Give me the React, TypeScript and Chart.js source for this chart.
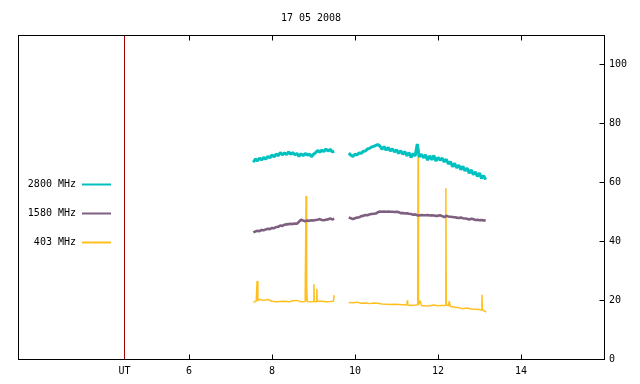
import React, { useEffect, useRef } from 'react';
import { Chart, registerables } from 'chart.js';

Chart.register(...registerables);

// ---------- data ----------
const TITLE = '17 05 2008';
const SERIES_LABELS = ['2800 MHz', '1580 MHz', '403 MHz'];
const SERIES_COLORS = ['#00c0c0', '#7f5f7f', '#ffbf1f'];
const UT_COLOR = '#a00000';

const X_MIN = 1.88;
const X_MAX = 16;
const UT_TIME = 4.446;
const X_TICKS = [UT_TIME, 6, 8, 10, 12, 14];
const Y_MIN = 0;
const Y_MAX = 110;
const Y_TICKS = [0, 20, 40, 60, 80, 100];
const GAP_TIME = 9.67;

const TIMES_A = [7.55, 7.6, 7.65, 7.7, 7.75, 7.8, 7.85, 7.9, 7.95, 8.0, 8.05, 8.1, 8.15, 8.2, 8.25, 8.3, 8.35, 8.4, 8.45, 8.5,
  8.55, 8.6, 8.65, 8.7, 8.75, 8.8, 8.85, 8.9, 8.95, 9.0, 9.05, 9.1, 9.15, 9.2, 9.25, 9.3, 9.35, 9.4, 9.45, 9.5];
const TIMES_B = [9.85, 9.9, 9.95, 10.0, 10.05, 10.1, 10.15, 10.2, 10.25, 10.3, 10.35, 10.4, 10.45, 10.5, 10.55, 10.6, 10.65,
  10.7, 10.75, 10.8, 10.85, 10.9, 10.95, 11.0, 11.05, 11.1, 11.15, 11.2, 11.25, 11.3, 11.35, 11.4, 11.45, 11.5, 11.55,
  11.6, 11.65, 11.7, 11.75, 11.8, 11.85, 11.9, 11.95, 12.0, 12.05, 12.1, 12.15, 12.2, 12.25, 12.3, 12.35, 12.4, 12.45,
  12.5, 12.55, 12.6, 12.65, 12.7, 12.75, 12.8, 12.85, 12.9, 12.95, 13.0, 13.05, 13.1, 13.15];

const MHZ2800_A = [66.8, 67.9, 67.3, 68.2, 67.6, 68.4, 67.9, 68.8, 68.3, 69.3, 68.6, 69.6, 69.0, 70.1, 69.3, 70.0, 69.4, 70.3, 69.5, 70.1,
  69.3, 69.8, 68.8, 69.7, 69.0, 69.8, 69.2, 69.6, 68.7, 69.5, 70.0, 70.8, 70.2, 70.9, 70.4, 71.3, 70.6, 71.2, 70.3, 70.6];
const MHZ2800_B = [69.9, 69.2, 68.8, 69.5, 69.3, 70.0, 69.8, 70.5, 70.6, 71.3, 71.5, 72.0, 72.2, 72.5, 72.8, 72.3, 71.2,
  72.1, 70.9, 71.8, 70.6, 71.4, 70.3, 71.0, 69.8, 70.7, 69.5, 70.4, 69.0, 70.1, 68.4, 69.8, 68.9, 73.0, 68.6,
  69.5, 68.3, 69.3, 67.5, 69.0, 67.6, 69.1, 67.2, 68.4, 67.5, 68.2, 66.9, 67.8, 66.2, 67.0, 65.3, 66.4, 64.9,
  65.8, 64.3, 65.4, 63.9, 64.8, 63.1, 64.2, 62.6, 63.5, 62.0, 63.1, 61.3, 62.2, 60.9];

const MHZ1580_A = [43.0, 43.3, 43.5, 43.4, 43.8, 43.7, 44.0, 44.2, 44.1, 44.5, 44.4, 44.8, 44.9, 45.3, 45.2, 45.6, 45.7, 45.8, 45.9, 45.8,
  46.0, 45.9, 46.6, 47.3, 47.0, 46.8, 47.0, 46.9, 47.1, 47.0, 47.2, 47.3, 47.5, 47.2, 47.1, 47.3, 47.4, 47.7, 47.4, 47.6];
const MHZ1580_B = [48.1, 47.8, 47.5, 47.8, 48.0, 48.1, 48.5, 48.6, 48.9, 48.8, 49.1, 49.2, 49.3, 49.4, 49.8, 50.1, 50.0,
  50.1, 50.0, 50.1, 50.0, 50.0, 49.9, 50.0, 49.9, 49.5, 49.6, 49.4, 49.5, 49.3, 49.2, 49.0, 49.1, 48.8, 48.7,
  48.9, 48.8, 48.8, 48.9, 48.7, 48.8, 48.7, 48.6, 48.6, 48.8, 48.5, 48.2, 48.6, 48.4, 48.3, 48.2, 48.1, 48.0,
  47.9, 48.0, 47.8, 47.7, 47.6, 47.4, 47.6, 47.5, 47.2, 47.3, 47.1, 47.2, 47.0, 47.1];

const MHZ403_TIMES_A = [7.55, 7.62, 7.64, 7.66, 7.7, 7.8, 7.9, 8.0, 8.1, 8.2, 8.3, 8.4, 8.5, 8.6, 8.7, 8.8, 8.82, 8.83, 8.84,
  8.85, 8.9, 9.0, 9.01, 9.02, 9.07, 9.08, 9.09, 9.2, 9.3, 9.4, 9.48, 9.5];
const MHZ403_A = [19.3, 19.6, 26.5, 19.8, 20.3, 19.9, 20.2, 19.6, 19.4, 19.5, 19.6, 19.4, 19.8, 19.9, 19.4, 19.5, 55.3, 19.7, 25.1,
  19.5, 19.4, 19.5, 25.4, 19.5, 19.4, 23.8, 19.6, 19.6, 19.4, 19.5, 19.6, 21.7];
const MHZ403_TIMES_B = [9.85, 9.95, 10.05, 10.15, 10.25, 10.35, 10.45, 10.55, 10.65, 10.75, 10.85, 10.95, 11.05, 11.15, 11.25,
  11.26, 11.27, 11.35, 11.45, 11.51, 11.52, 11.53, 11.57, 11.6, 11.7, 11.8, 11.9, 12.0, 12.1, 12.18, 12.19, 12.2,
  12.25, 12.27, 12.3, 12.4, 12.5, 12.6, 12.7, 12.8, 12.9, 13.0, 13.05, 13.06, 13.07, 13.12, 13.16];
const MHZ403_B = [19.2, 19.1, 19.3, 18.9, 19.0, 18.8, 19.0, 18.9, 18.7, 18.6, 18.5, 18.6, 18.5, 18.4, 18.3,
  19.9, 18.3, 18.2, 18.3, 18.4, 72.0, 18.3, 19.8, 18.2, 18.0, 18.1, 18.3, 18.1, 18.2, 18.2, 58.0, 18.6,
  18.0, 19.6, 17.8, 17.6, 17.4, 17.1, 17.3, 17.0, 16.9, 16.8, 16.6, 21.8, 16.7, 16.3, 15.9];

// ---------- helpers ----------
type Pt = { x: number; y: number | null };
const seg = (times: number[], vals: number[]): Pt[] => times.map((t, i) => ({ x: t, y: vals[i] }));
const joined = (tA: number[], vA: number[], tB: number[], vB: number[]): Pt[] => [
  ...seg(tA, vA),
  { x: GAP_TIME, y: null },
  ...seg(tB, vB),
];

const FONT = { family: "'DejaVu Sans Mono', monospace", size: 10, weight: 'normal' as const };

const framePlugin = {
  id: 'gnuFrame',
  afterDatasetsDraw(chart: any) {
    const { ctx, chartArea: a, scales } = chart;
    ctx.save();
    ctx.strokeStyle = '#000';
    ctx.lineWidth = 1;
    ctx.strokeRect(a.left + 0.5, a.top + 0.5, a.right - a.left, a.bottom - a.top);
    ctx.beginPath();
    scales.x.ticks.forEach((t: any) => {
      if (t.value === UT_TIME) return;
      const px = Math.round(scales.x.getPixelForValue(t.value)) + 0.5;
      ctx.moveTo(px, a.bottom + 0.5);
      ctx.lineTo(px, a.bottom - 4.5);
      ctx.moveTo(px, a.top + 0.5);
      ctx.lineTo(px, a.top + 5.5);
    });
    scales.y.ticks.forEach((t: any) => {
      if (t.value === Y_MIN) return;
      const py = Math.round(scales.y.getPixelForValue(t.value)) + 0.5;
      ctx.moveTo(a.right + 0.5, py);
      ctx.lineTo(a.right - 4.5, py);
    });
    ctx.stroke();

    // key (legend) inside the plot, gnuplot style: label then sample line
    ctx.font = `10px 'DejaVu Sans Mono', monospace`;
    ctx.textAlign = 'right';
    ctx.textBaseline = 'middle';
    let row = 0;
    chart.data.datasets.forEach((ds: any) => {
      if (!ds.keyed) return;
      const y = a.top + 149.5 + row * 29;
      ctx.fillStyle = '#000';
      ctx.fillText(ds.label, a.left + 58, y);
      ctx.strokeStyle = ds.borderColor;
      ctx.lineWidth = 2;
      ctx.beginPath();
      ctx.moveTo(a.left + 64, y);
      ctx.lineTo(a.left + 93, y);
      ctx.stroke();
      row++;
    });
    ctx.restore();
  },
};

export default function App() {
  const ref = useRef<HTMLCanvasElement | null>(null);

  useEffect(() => {
    if (!ref.current) return;
    const chart = new Chart(ref.current, {
      type: 'line',
      data: {
        datasets: [
          {
            label: SERIES_LABELS[0],
            keyed: true,
            data: joined(TIMES_A, MHZ2800_A, TIMES_B, MHZ2800_B),
            borderColor: SERIES_COLORS[0],
            borderWidth: 3,
            borderJoinStyle: 'bevel',
            pointRadius: 0,
            tension: 0,
          },
          {
            label: SERIES_LABELS[1],
            keyed: true,
            data: joined(TIMES_A, MHZ1580_A, TIMES_B, MHZ1580_B),
            borderColor: SERIES_COLORS[1],
            borderWidth: 2.6,
            borderJoinStyle: 'bevel',
            pointRadius: 0,
            tension: 0,
          },
          {
            label: SERIES_LABELS[2],
            keyed: true,
            data: joined(MHZ403_TIMES_A, MHZ403_A, MHZ403_TIMES_B, MHZ403_B),
            borderColor: SERIES_COLORS[2],
            borderWidth: 1.5,
            borderJoinStyle: 'bevel',
            pointRadius: 0,
            tension: 0,
          },
          {
            label: 'UT',
            keyed: false,
            data: [
              { x: UT_TIME, y: Y_MIN },
              { x: UT_TIME, y: Y_MAX },
            ],
            borderColor: UT_COLOR,
            borderWidth: 1,
            pointRadius: 0,
          },
        ] as any,
      },
      options: {
        animation: false,
        responsive: false,
        devicePixelRatio: 1,
        spanGaps: false,
        layout: { padding: { left: 18, right: 0, top: 0, bottom: 0 } },
        plugins: {
          legend: { display: false },
          tooltip: { enabled: false },
          title: {
            display: true,
            text: TITLE,
            fullSize: false,
            color: '#000',
            font: FONT,
            padding: { top: 12, bottom: 11 },
          },
        },
        scales: {
          x: {
            type: 'linear',
            position: 'bottom',
            min: X_MIN,
            max: X_MAX,
            grid: { display: false, drawTicks: false },
            border: { display: false },
            ticks: {
              color: '#000',
              font: FONT,
              padding: 6,
              maxRotation: 0,
              autoSkip: false,
              callback: (v: any) => (v === UT_TIME ? 'UT' : String(v)),
            },
            afterBuildTicks: (s: any) => {
              s.ticks = X_TICKS.map((v) => ({ value: v }));
            },
            afterFit: (s: any) => {
              s.height = 25;
            },
          },
          y: {
            type: 'linear',
            position: 'right',
            min: Y_MIN,
            max: Y_MAX,
            grid: { display: false, drawTicks: false },
            border: { display: false },
            ticks: {
              color: '#000',
              font: FONT,
              padding: 5,
              callback: (v: any) => String(v),
            },
            afterBuildTicks: (s: any) => {
              s.ticks = Y_TICKS.map((v) => ({ value: v }));
            },
            afterFit: (s: any) => {
              s.width = 36;
            },
          },
        },
      } as any,
      plugins: [framePlugin],
    });
    return () => chart.destroy();
  }, []);

  return (
    <div style={{ position: 'absolute', left: 0, top: 0, width: 640, height: 384, background: '#fff' }}>
      <canvas ref={ref} width={640} height={384} />
    </div>
  );
}
